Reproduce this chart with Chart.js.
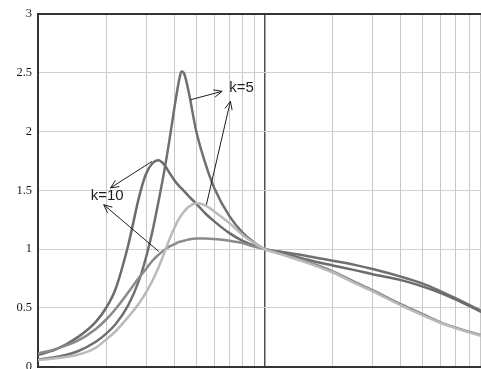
<!DOCTYPE html>
<html>
<head>
<meta charset="utf-8">
<script src="https://cdn.jsdelivr.net/npm/chart.js@4/dist/chart.umd.min.js"></script>
<style>
  html, body { margin: 0; padding: 0; background: #fff; overflow: hidden; }
  #wrap { position: absolute; left: 0; top: 0; width: 500px; height: 380px; }
</style>
</head>
<body>
<div id="wrap"><canvas id="c"></canvas></div>
<script>
// Normalised frequency (log axis)
const freq = [0.1, 0.12, 0.15, 0.18, 0.2, 0.22, 0.25, 0.28, 0.3, 0.32, 0.34, 0.36, 0.38, 0.4,
  0.42, 0.43, 0.44, 0.46, 0.5, 0.55, 0.6, 0.7, 0.8, 0.9, 1, 1.2, 1.5, 2, 2.5, 3, 4, 5, 6, 7, 8, 9, 10];

// Response curves, two per k value
const k5Sharp = [0.06, 0.08, 0.13, 0.21, 0.28, 0.36, 0.52, 0.74, 0.93, 1.15, 1.40, 1.65, 1.92, 2.20,
  2.44, 2.51, 2.50, 2.36, 2.00, 1.72, 1.52, 1.28, 1.14, 1.055, 1.0,
  0.975, 0.945, 0.90, 0.865, 0.83, 0.765, 0.705, 0.64, 0.58, 0.525, 0.475, 0.43];
const k10Sharp = [0.10, 0.145, 0.25, 0.38, 0.50, 0.66, 1.03, 1.45, 1.64, 1.73, 1.755, 1.72, 1.65, 1.585,
  1.535, 1.515, 1.495, 1.455, 1.385, 1.30, 1.235, 1.135, 1.07, 1.03, 1.0,
  0.965, 0.915, 0.86, 0.82, 0.785, 0.735, 0.68, 0.625, 0.57, 0.515, 0.468, 0.425];
const k5Soft = [0.055, 0.07, 0.10, 0.16, 0.23, 0.30, 0.42, 0.54, 0.63, 0.73, 0.84, 0.96, 1.08, 1.18,
  1.26, 1.29, 1.315, 1.355, 1.39, 1.37, 1.32, 1.22, 1.12, 1.05, 1.0,
  0.95, 0.89, 0.80, 0.71, 0.64, 0.52, 0.435, 0.37, 0.325, 0.29, 0.262, 0.24];
const k10Soft = [0.11, 0.15, 0.22, 0.32, 0.40, 0.49, 0.63, 0.76, 0.83, 0.90, 0.95, 0.99, 1.02, 1.04,
  1.06, 1.065, 1.07, 1.08, 1.09, 1.09, 1.085, 1.07, 1.05, 1.02, 1.0,
  0.955, 0.90, 0.81, 0.72, 0.65, 0.53, 0.445, 0.376, 0.331, 0.296, 0.268, 0.246];

// Axis values
const xGrid = [0.1, 0.2, 0.3, 0.4, 0.5, 0.6, 0.7, 0.8, 0.9, 1, 2, 3, 4, 5, 6, 7, 8, 9, 10];
const yTickLabels = ['0', '0.5', '1', '1.5', '2', '2.5', '3'];

// Callouts (in data units)
const arrows = [
  { from: [0.471, 2.27], to: [0.650, 2.342] },
  { from: [0.554, 1.377], to: [0.707, 2.257] },
  { from: [0.319, 1.746], to: [0.209, 1.52] },
  { from: [0.341, 0.98], to: [0.195, 1.377] }
];
const notes = [
  { text: 'k=5', at: [0.791, 2.373] },
  { text: 'k=10', at: [0.202, 1.454] }
];

const pts = ys => freq.map((x, i) => ({ x, y: ys[i] }));

const callouts = {
  id: 'callouts',
  afterDatasetsDraw(chart) {
    const { ctx, scales: { x, y } } = chart;
    ctx.save();
    ctx.strokeStyle = '#1e1e1e';
    ctx.lineWidth = 1;
    arrows.forEach(a => {
      const x1 = x.getPixelForValue(a.from[0]), y1 = y.getPixelForValue(a.from[1]);
      const x2 = x.getPixelForValue(a.to[0]), y2 = y.getPixelForValue(a.to[1]);
      const ang = Math.atan2(y2 - y1, x2 - x1);
      const len = 9, spread = 0.42;
      ctx.beginPath();
      ctx.moveTo(x1, y1);
      ctx.lineTo(x2, y2);
      ctx.moveTo(x2 - len * Math.cos(ang - spread), y2 - len * Math.sin(ang - spread));
      ctx.lineTo(x2, y2);
      ctx.lineTo(x2 - len * Math.cos(ang + spread), y2 - len * Math.sin(ang + spread));
      ctx.stroke();
    });
    ctx.fillStyle = '#1e1e1e';
    ctx.font = '15px "Liberation Sans", Arial, sans-serif';
    ctx.textAlign = 'center';
    ctx.textBaseline = 'middle';
    notes.forEach(n => {
      ctx.fillText(n.text, x.getPixelForValue(n.at[0]), y.getPixelForValue(n.at[1]));
    });
    ctx.restore();
  }
};

const line = (data, color) => ({
  data: pts(data),
  borderColor: color,
  borderWidth: 2.5,
  pointRadius: 0,
  fill: false,
  cubicInterpolationMode: 'monotone'
});

new Chart(document.getElementById('c'), {
  type: 'line',
  data: {
    datasets: [
      line(k5Soft, '#bababa'),
      line(k10Soft, '#8a8a8a'),
      line(k10Sharp, '#6c6c6c'),
      line(k5Sharp, '#707070')
    ]
  },
  options: {
    responsive: true,
    maintainAspectRatio: false,
    animation: false,
    layout: { padding: { top: 14, right: 9, bottom: 13, left: 0 } },
    plugins: { legend: { display: false }, tooltip: { enabled: false } },
    scales: {
      x: {
        type: 'logarithmic',
        min: 0.1,
        max: 10,
        afterBuildTicks: s => { s.ticks = xGrid.map(v => ({ value: v })); },
        ticks: { display: false },
        grid: {
          drawTicks: false,
          color: c => (c.tick && c.tick.value === 1) ? '#505050' : '#c8c8c8',
          lineWidth: c => (c.tick && c.tick.value === 1) ? 1.5 : 1
        },
        border: { display: true, color: '#333', width: 2 }
      },
      y: {
        min: 0,
        max: 3,
        afterFit: s => { s.width = 38; },
        ticks: {
          stepSize: 0.5,
          padding: 6,
          color: '#1a1a1a',
          font: { family: '"Liberation Serif", "Times New Roman", serif', size: 12.5 },
          callback: v => yTickLabels[Math.round(v / 0.5)]
        },
        grid: {
          drawTicks: false,
          color: c => (c.tick && c.tick.value === 3) ? '#333' : '#d0d0d0',
          lineWidth: c => (c.tick && c.tick.value === 3) ? 2 : 1
        },
        border: { display: true, color: '#333', width: 2 }
      }
    }
  },
  plugins: [callouts]
});
</script>
</body>
</html>
